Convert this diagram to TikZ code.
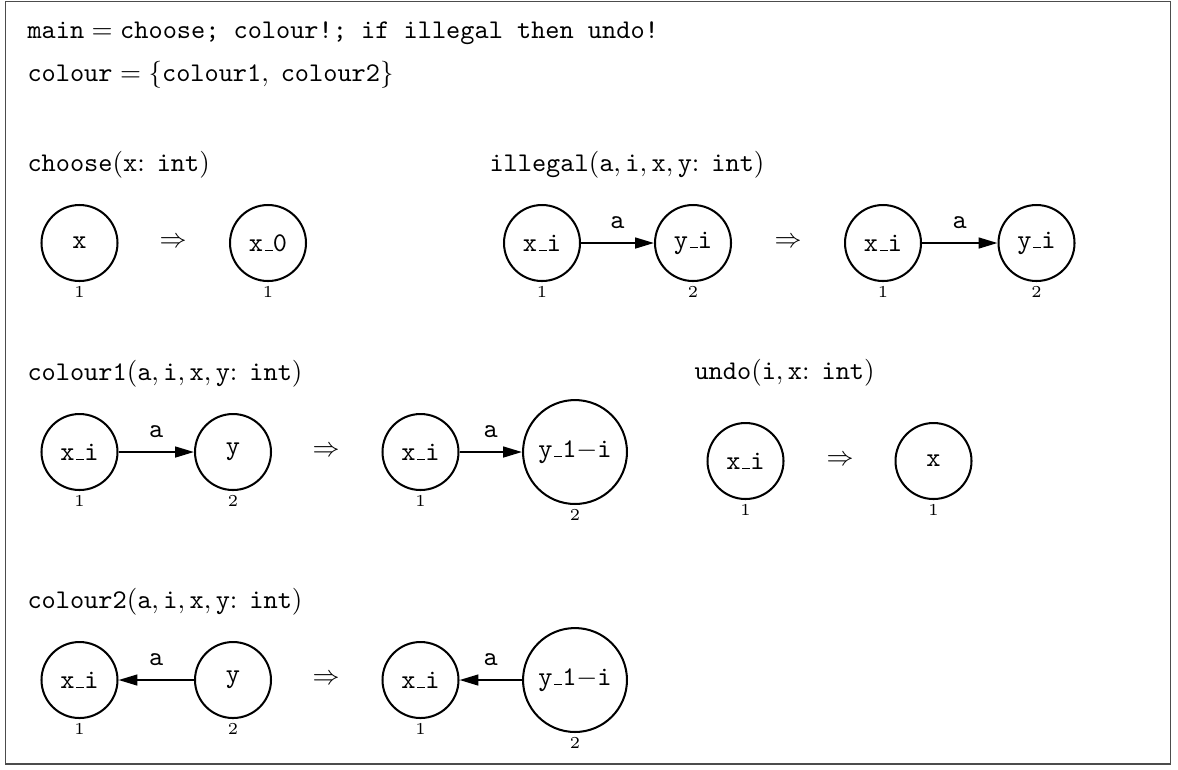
\documentclass[tikz,border=0pt]{standalone}
\usetikzlibrary{arrows.meta}
\newcommand\us{\leavevmode\kern.06em\vbox{\hrule width.3em}}
\begin{document}
\begin{tikzpicture}[x=0.37037pt,y=-0.37037pt,
  frame/.style={draw=black!70,line width=0.55pt},
  txt/.style={anchor=base west,inner sep=0pt},
  vtx/.style={circle,draw,line width=0.75pt,minimum size=28.15pt,inner sep=0pt,font=\ttfamily},
  bigvtx/.style={vtx,minimum size=38.5pt},
  lbl/.style={font=\fontsize{6.2}{7}\selectfont,inner sep=0pt,label distance=1.4pt},
  edge/.style={draw,line width=0.75pt,-{Triangle[length=7pt,width=4pt]}},
  elab/.style={above,inner sep=5pt,font=\ttfamily},
  rarr/.style={inner sep=0pt}]
\useasboundingbox (0,0) rectangle (1178,769);
\draw[frame] (5.5,1.5) rectangle (1170.5,764);

% header
\node[txt] (l1) at (27,38) {\texttt{main}${}={}$\texttt{choose; colour!; if illegal then undo!}};
\node[txt] (l2) at (27,81) {\texttt{colour}${}=\{\mathtt{colour1},\;\mathtt{colour2}\}$};

% choose
\node[txt] (tch) at (27,171) {\texttt{choose}$(\mathtt{x}\colon\;\mathtt{int})$};
\node[vtx,label={[lbl]below:1}] (cha) at (79.5,243) {x};
\node[rarr] (chr) at (173,243) {$\Rightarrow$};
\node[vtx,label={[lbl]below:1}] (chb) at (268,243) {x\us0};

% illegal
\node[txt] (til) at (489,171) {\texttt{illegal}$(\mathtt{a},\mathtt{i},\mathtt{x},\mathtt{y}\colon\;\mathtt{int})$};
\node[vtx,label={[lbl]below:1}] (ila) at (542,243) {x\us i};
\node[vtx,label={[lbl]below:2}] (ilb) at (693,243) {y\us i};
\node[rarr] (ilr) at (788,243) {$\Rightarrow$};
\node[vtx,label={[lbl]below:1}] (ilc) at (883,243) {x\us i};
\node[vtx,label={[lbl]below:2}] (ild) at (1036.5,243) {y\us i};
\draw[edge] (ila) -- node[elab]{a} (ilb);
\draw[edge] (ilc) -- node[elab]{a} (ild);

% colour1
\node[txt] (tc1) at (27,380) {\texttt{colour1}$(\mathtt{a},\mathtt{i},\mathtt{x},\mathtt{y}\colon\;\mathtt{int})$};
\node[vtx,label={[lbl]below:1}] (c1a) at (79.5,452) {x\us i};
\node[vtx,label={[lbl]below:2}] (c1b) at (233,452) {y};
\node[rarr] (c1r) at (326,452) {$\Rightarrow$};
\node[vtx,label={[lbl]below:1}] (c1c) at (420.5,452) {x\us i};
\node[bigvtx,label={[lbl]below:2}] (c1d) at (575,452) {y\us1$-$i};
\draw[edge] (c1a) -- node[elab]{a} (c1b);
\draw[edge] (c1c) -- node[elab]{a} (c1d);

% undo
\node[txt] (tun) at (694,379) {\texttt{undo}$(\mathtt{i},\mathtt{x}\colon\;\mathtt{int})$};
\node[vtx,label={[lbl]below:1}] (una) at (745.5,461) {x\us i};
\node[rarr] (unr) at (840,461) {$\Rightarrow$};
\node[vtx,label={[lbl]below:1}] (unb) at (933.5,461) {x};

% colour2
\node[txt] (tc2) at (27,608) {\texttt{colour2}$(\mathtt{a},\mathtt{i},\mathtt{x},\mathtt{y}\colon\;\mathtt{int})$};
\node[vtx,label={[lbl]below:1}] (c2a) at (79.5,680) {x\us i};
\node[vtx,label={[lbl]below:2}] (c2b) at (233,680) {y};
\node[rarr] (c2r) at (326,680) {$\Rightarrow$};
\node[vtx,label={[lbl]below:1}] (c2c) at (420.5,680) {x\us i};
\node[bigvtx,label={[lbl]below:2}] (c2d) at (575,680) {y\us1$-$i};
\draw[edge] (c2b) -- node[elab]{a} (c2a);
\draw[edge] (c2d) -- node[elab]{a} (c2c);
\end{tikzpicture}
\end{document}
